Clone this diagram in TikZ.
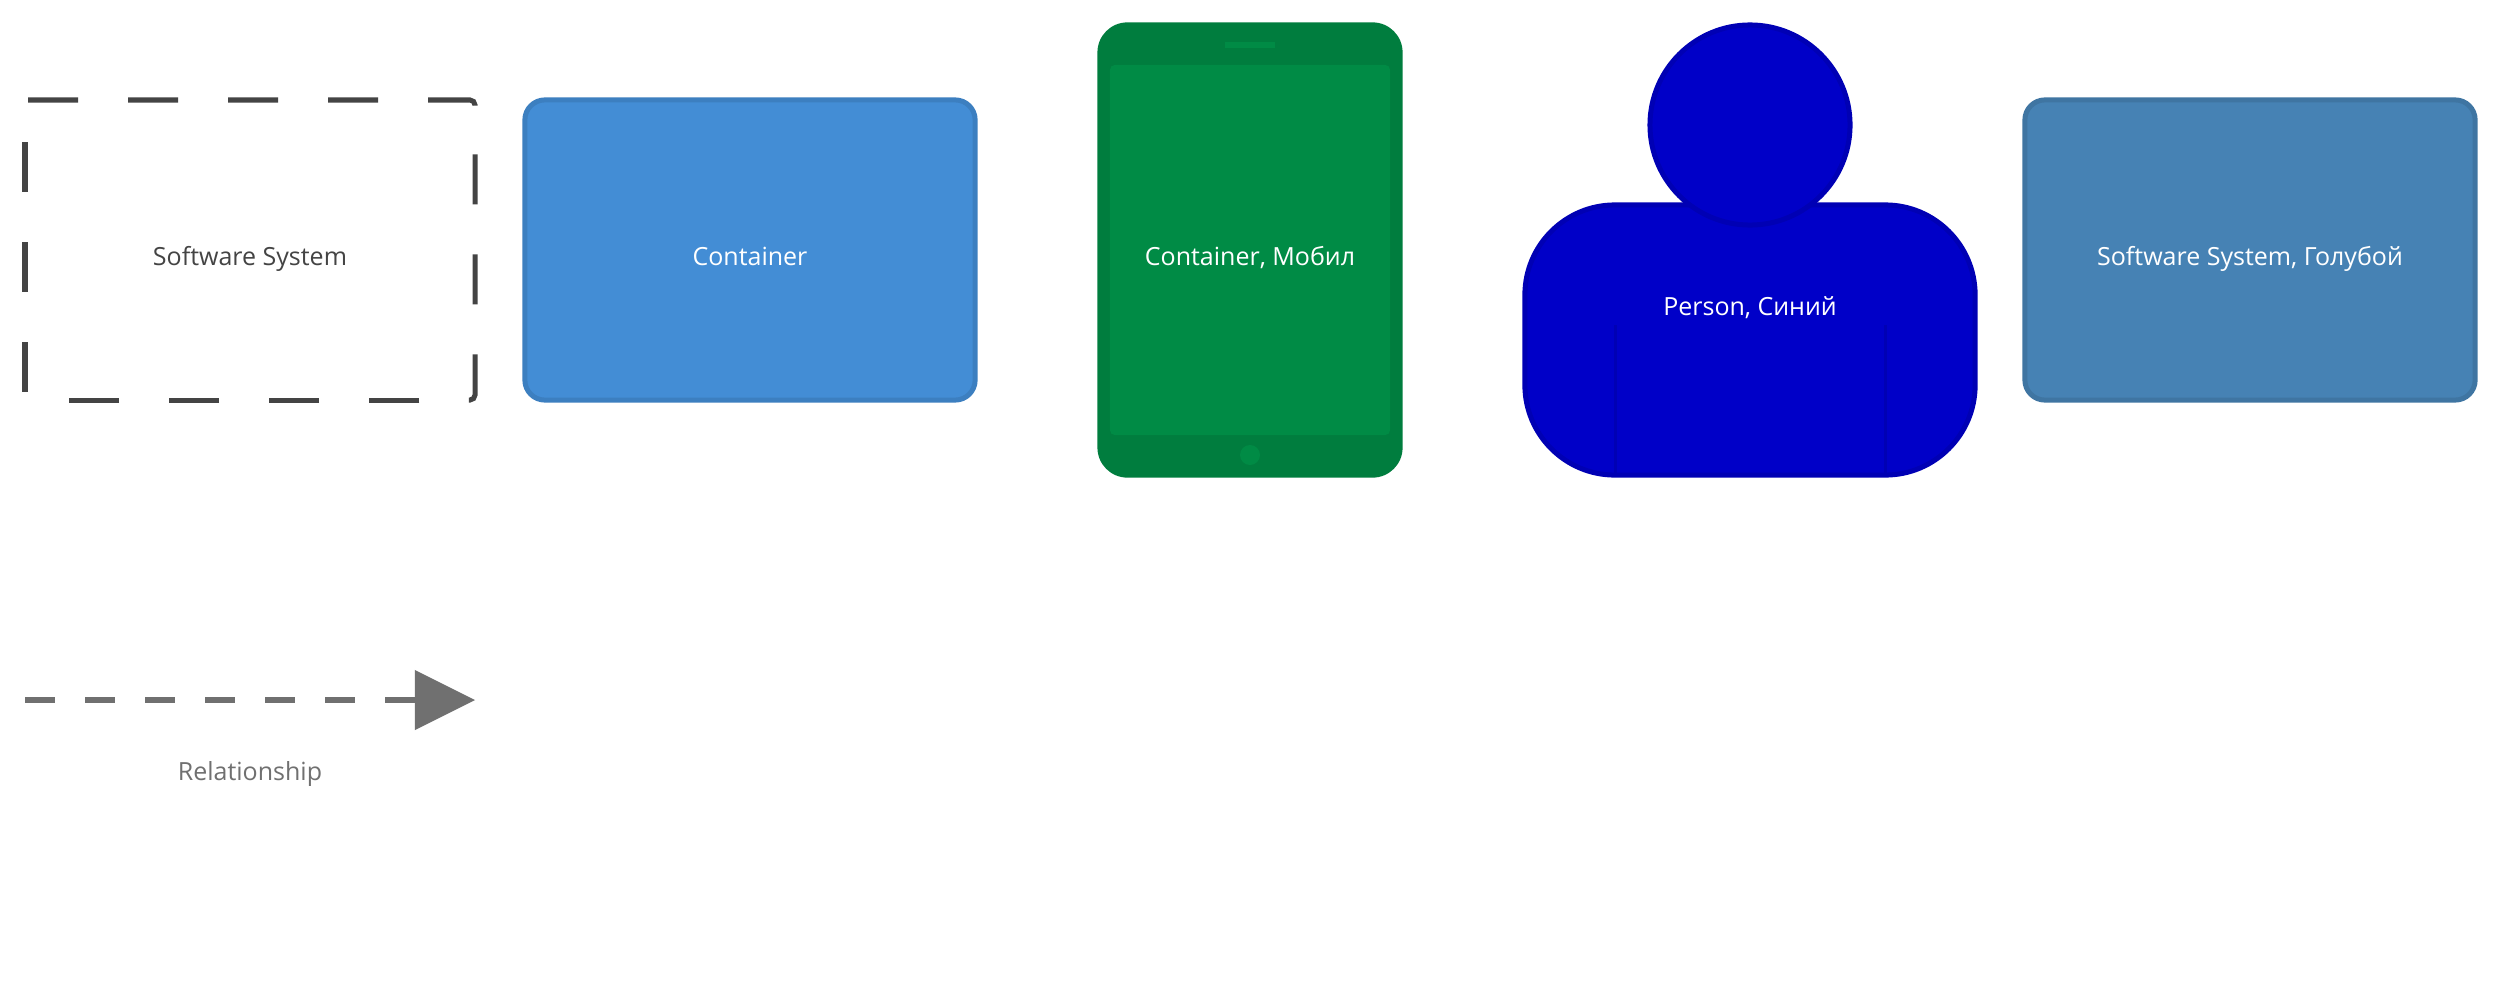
\documentclass[tikz,border=0pt]{standalone}
\usepackage{fontspec}
\setmainfont{Open Sans}
\usetikzlibrary{arrows.meta}
\definecolor{ssText}{HTML}{444444}
\definecolor{contFill}{HTML}{438DD5}
\definecolor{contLine}{HTML}{3C7FC0}
\definecolor{blueFill}{HTML}{4682B4}
\definecolor{blueLine}{HTML}{3F75A2}
\definecolor{mobScreen}{HTML}{008B45}
\definecolor{mobBody}{HTML}{007D3E}
\definecolor{perFill}{HTML}{0000C8}
\definecolor{perLine}{HTML}{0000B4}
\definecolor{relGrey}{HTML}{707070}
\tikzset{
  lbl/.style={anchor=base,inner sep=0pt,font=\fontsize{7.11pt}{8.5pt}\selectfont},
  boxshape/.style={rectangle,rounded corners=0.2cm,minimum width=4.5cm,minimum height=3cm,line width=0.05cm,inner sep=0pt,outer sep=0pt},
  dashside/.style={ssText,line width=0.05cm,dash pattern=on 0.5cm off 0.5cm,rounded corners=0.05cm},
  flat/.style={inner sep=0pt,outer sep=0pt},
  circshape/.style={circle,inner sep=0pt,outer sep=0pt}
}
\begin{document}
\begin{tikzpicture}[x=0.01cm,y=-0.01cm]
\useasboundingbox (0,0) rectangle (2500,1000);
\fill[white] (0,0) rectangle (2500,1000);
% dashed software system
\draw[dashside] (28,100) -- (475,100) -- (475,106);
\draw[dashside] (475,154.3) -- (475,400) -- (468.8,400);
\draw[dashside] (419.3,400) -- (25,400) -- (25,100) -- (30,100);
\node[lbl,text=ssText] (ssLabel) at (250,265) {Software System};
% container
\node[boxshape,draw=contLine,fill=contFill] (container) at (750,250) {};
\node[lbl,text=white] (containerLabel) at (750,265) {Container};
% mobile
\node[flat,rectangle,rounded corners=0.3cm,fill=mobBody,minimum width=3.05cm,minimum height=4.55cm] (tablet) at (1250,250) {};
\node[flat,rectangle,rounded corners=0.05cm,fill=mobScreen,minimum width=2.8cm,minimum height=3.7cm] (screen) at (1250,250) {};
\node[flat,rectangle,fill=mobScreen,minimum width=0.5cm,minimum height=0.05cm] (speaker) at (1250,45) {};
\node[circshape,fill=mobScreen,minimum size=0.2cm] (button) at (1250,455) {};
\node[lbl,text=white] (mobileLabel) at (1250,265) {Container, Мобил};
% person
\node[rectangle,rounded corners=0.9cm,draw=perLine,fill=perFill,line width=0.05cm,inner sep=0pt,outer sep=0pt,minimum width=4.5cm,minimum height=2.7cm] (body) at (1750,340) {};
\coordinate (armLtop) at (1615,325);
\coordinate (armLbot) at (1615,475);
\coordinate (armRtop) at (1885,325);
\coordinate (armRbot) at (1885,475);
\draw[perLine,line width=0.03cm] (armLtop) -- (armLbot);
\draw[perLine,line width=0.03cm] (armRtop) -- (armRbot);
\node[circshape,draw=perLine,fill=perFill,line width=0.05cm,minimum size=2cm] (head) at (1750,125) {};
\node[lbl,text=white] (personLabel) at (1750,315) {Person, Синий};
% software system blue
\node[boxshape,draw=blueLine,fill=blueFill] (system) at (2250,250) {};
\node[lbl,text=white] (systemLabel) at (2250,265) {Software System, Голубой};
% relationship
\coordinate (relStart) at (25,700);
\coordinate (relEnd) at (475,700);
\draw[relGrey,line width=0.06cm,dash pattern=on 0.3cm off 0.3cm,-{Triangle[length=0.6cm,width=0.6cm,line width=0pt]}] (relStart) -- (relEnd);
\node[lbl,text=relGrey] (relLabel) at (250,780) {Relationship};
\end{tikzpicture}
\end{document}
